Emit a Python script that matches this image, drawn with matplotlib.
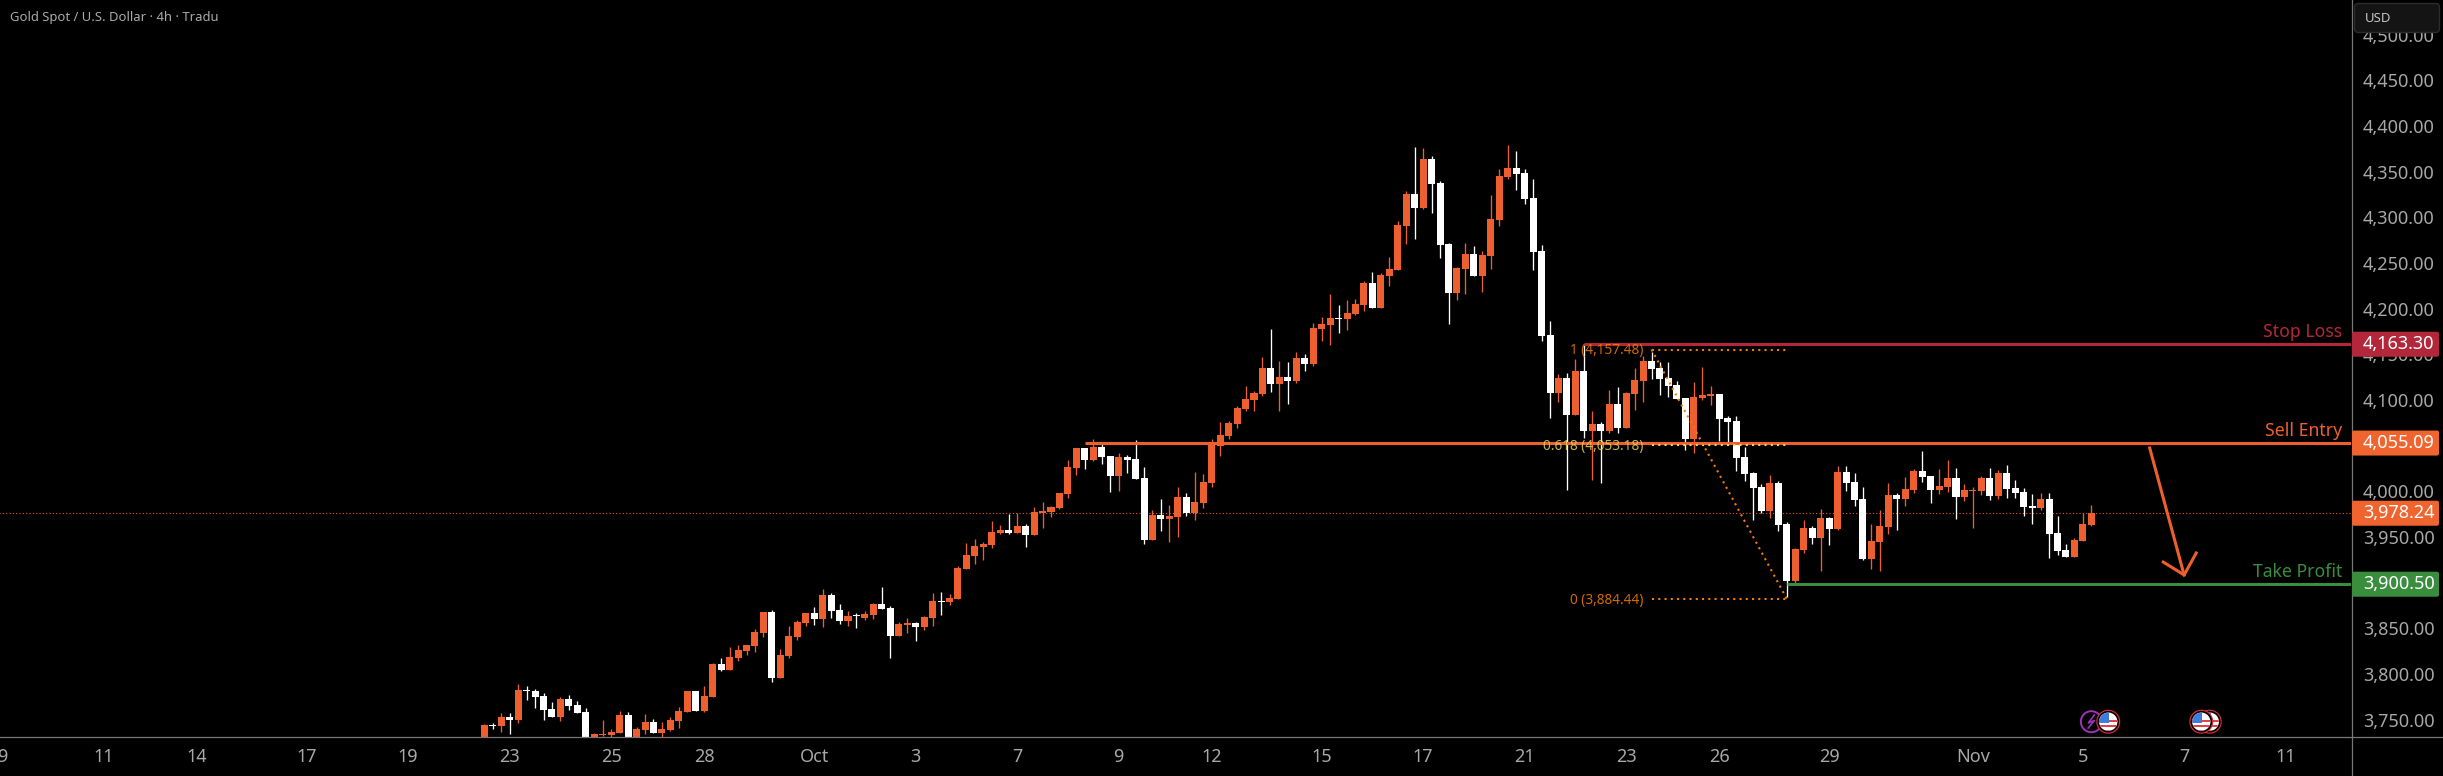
import matplotlib
matplotlib.use("Agg")
import matplotlib.pyplot as plt
import numpy as np
from matplotlib.patches import Circle, FancyBboxPatch, Rectangle
from matplotlib.transforms import blended_transform_factory

# 4h candles, oldest first
opens = [
    3725.0, 3746.1, 3745.3, 3755.2, 3751.9, 3784.8, 3783.7, 3778.2, 3764.0, 3755.2,
    3774.9, 3768.3, 3760.7, 3728.0, 3735.5, 3735.5, 3737.7, 3757.4, 3730.0, 3741.0,
    3749.7, 3737.7, 3741.0, 3750.8, 3760.7, 3783.7, 3761.8, 3777.1, 3813.2, 3806.7,
    3819.8, 3827.5, 3832.9, 3847.2, 3870.2, 3797.9, 3822.0, 3842.8, 3858.1, 3869.1,
    3862.5, 3888.8, 3872.4, 3860.3, 3866.9, 3863.6, 3866.9, 3878.9, 3874.5, 3843.9,
    3855.9, 3858.1, 3853.7, 3863.6, 3882.2, 3881.1, 3884.4, 3917.2, 3931.5, 3941.3,
    3943.5, 3956.7, 3960.0, 3956.7, 3964.3, 3954.5, 3978.6, 3979.7, 3984.0, 3999.4,
    4027.8, 4049.7, 4036.6, 4050.8, 4041.0, 4019.1, 4039.9, 4037.7, 4016.9, 3949.0,
    3976.4, 3972.0, 3974.2, 3996.1, 3978.6, 3989.5, 4011.4, 4051.9, 4062.9, 4076.0,
    4092.4, 4102.3, 4108.9, 4137.3, 4119.8, 4127.5, 4123.1, 4148.3, 4141.7, 4180.0,
    4184.4, 4192.1, 4191.0, 4196.5, 4206.3, 4230.4, 4203.0, 4238.1, 4244.6, 4292.8,
    4327.9, 4312.5, 4366.2, 4339.9, 4273.1, 4219.5, 4245.7, 4262.2, 4238.1, 4260.0,
    4299.4, 4346.5, 4356.3, 4350.9, 4323.5, 4265.4, 4173.5, 4110.0, 4126.4, 4085.9,
    4134.0, 4068.4, 4076.0, 4068.4, 4097.9, 4071.6, 4108.9, 4123.1, 4145.0, 4137.3,
    4126.4, 4118.7, 4104.5, 4059.6, 4104.4, 4106.6, 4108.8, 4082.5, 4079.3, 4039.8,
    4022.3, 4007.0, 3980.7, 4011.4, 3966.5, 3904.1, 3938.0, 3962.1, 3951.1, 3973.0,
    3961.0, 4023.4, 4012.5, 3993.8, 3928.1, 3946.8, 3963.2, 3998.2, 3993.8, 4003.7,
    4024.5, 4019.0, 4003.7, 4007.0, 4016.8, 3996.0, 4002.6, 4002.6, 4016.8, 3997.1,
    4022.3, 4005.9, 4001.5, 3986.2, 3984.0, 3993.8, 3956.6, 3938.0, 3930.3, 3947.8,
    3965.4,
]
highs = [
    3747.5, 3748.6, 3759.6, 3759.6, 3791.3, 3789.1, 3785.9, 3781.5, 3771.6, 3777.1,
    3779.3, 3772.7, 3765.0, 3737.7, 3751.9, 3742.0, 3761.8, 3760.7, 3744.2, 3758.5,
    3753.0, 3749.7, 3755.2, 3766.1, 3783.7, 3783.7, 3789.1, 3814.3, 3819.8, 3831.8,
    3834.0, 3834.0, 3851.5, 3870.2, 3872.4, 3829.6, 3854.8, 3861.4, 3869.1, 3875.6,
    3895.3, 3891.0, 3878.9, 3871.3, 3869.1, 3871.3, 3880.0, 3897.5, 3876.7, 3859.2,
    3863.6, 3859.2, 3865.8, 3891.0, 3892.1, 3889.9, 3920.5, 3945.7, 3950.1, 3946.8,
    3969.8, 3965.4, 3977.5, 3978.2, 3966.5, 3985.1, 3990.6, 3986.2, 4000.5, 4036.6,
    4049.7, 4049.7, 4059.6, 4054.1, 4041.0, 4044.3, 4042.1, 4058.5, 4028.9, 3981.9,
    3993.9, 3987.3, 4007.0, 4000.5, 4023.5, 4021.3, 4059.6, 4078.2, 4079.3, 4095.7,
    4117.6, 4112.2, 4149.4, 4180.0, 4145.0, 4143.9, 4154.9, 4152.7, 4186.6, 4193.2,
    4218.4, 4206.3, 4211.8, 4212.9, 4232.6, 4242.5, 4241.4, 4258.9, 4298.3, 4331.2,
    4379.3, 4378.2, 4369.5, 4342.1, 4274.2, 4247.9, 4274.2, 4270.9, 4265.4, 4326.8,
    4355.2, 4381.5, 4375.0, 4355.2, 4344.3, 4272.0, 4188.8, 4130.8, 4131.9, 4147.2,
    4162.5, 4090.2, 4078.2, 4113.2, 4116.5, 4111.1, 4137.3, 4150.5, 4154.9, 4143.9,
    4143.9, 4123.1, 4104.5, 4122.0, 4138.4, 4117.6, 4108.8, 4084.7, 4084.7, 4050.8,
    4023.4, 4010.3, 4020.1, 4013.6, 3968.7, 3940.2, 3970.9, 3964.3, 3982.9, 3974.1,
    4030.0, 4030.0, 4022.3, 4007.0, 3966.5, 3981.8, 4011.4, 4000.4, 4017.9, 4026.7,
    4046.4, 4019.0, 4026.7, 4036.6, 4027.8, 4010.3, 4007.0, 4019.0, 4027.8, 4025.6,
    4031.1, 4014.6, 4005.9, 3999.3, 4000.4, 4000.4, 3975.2, 3944.6, 3951.1, 3978.5,
    3987.3,
]
lows = [
    3722.0, 3742.0, 3738.8, 3736.6, 3748.6, 3773.8, 3765.0, 3751.9, 3755.2, 3750.8,
    3762.9, 3759.6, 3718.0, 3726.0, 3734.4, 3733.0, 3737.7, 3728.0, 3728.0, 3736.6,
    3737.7, 3733.0, 3739.9, 3743.1, 3760.7, 3761.8, 3760.7, 3777.1, 3805.6, 3806.7,
    3816.5, 3823.1, 3826.4, 3842.8, 3793.5, 3797.9, 3819.8, 3839.5, 3854.8, 3855.9,
    3853.7, 3863.6, 3857.0, 3854.8, 3852.6, 3861.4, 3862.5, 3873.4, 3819.8, 3843.9,
    3847.2, 3838.4, 3850.4, 3854.8, 3866.9, 3878.0, 3884.4, 3917.2, 3922.7, 3927.1,
    3940.2, 3955.6, 3955.6, 3956.7, 3941.3, 3954.5, 3962.1, 3974.2, 3982.9, 3995.0,
    4020.2, 4026.7, 4035.5, 4032.2, 4001.6, 4002.7, 4022.4, 4015.8, 3944.6, 3949.0,
    3958.9, 3946.8, 3952.3, 3975.3, 3970.9, 3984.0, 4007.0, 4041.0, 4059.6, 4071.6,
    4090.3, 4090.3, 4106.7, 4111.1, 4090.2, 4097.9, 4120.9, 4134.1, 4139.5, 4166.9,
    4162.5, 4175.7, 4179.0, 4195.4, 4199.8, 4203.0, 4203.0, 4227.1, 4244.6, 4273.1,
    4278.6, 4311.4, 4307.1, 4257.8, 4185.5, 4211.8, 4218.4, 4238.1, 4220.6, 4245.7,
    4292.8, 4344.3, 4332.2, 4316.9, 4244.6, 4166.9, 4082.6, 4100.1, 4003.8, 4085.9,
    4060.7, 4014.7, 4011.4, 4066.2, 4066.2, 4071.6, 4091.3, 4100.1, 4125.3, 4107.8,
    4105.6, 4103.4, 4047.6, 4044.3, 4102.3, 4096.8, 4057.4, 4053.0, 4024.5, 4013.6,
    3970.9, 3978.5, 3973.0, 3958.8, 3886.5, 3899.7, 3934.7, 3944.6, 3915.0, 3943.5,
    3959.9, 4002.6, 3986.2, 3927.0, 3917.2, 3915.0, 3955.5, 3959.9, 3986.2, 4000.4,
    4012.5, 3989.5, 3999.3, 4001.5, 3972.0, 3991.7, 3962.1, 3998.2, 3992.7, 3993.8,
    3995.0, 3995.0, 3975.2, 3966.5, 3981.8, 3929.2, 3932.5, 3930.3, 3930.3, 3947.8,
    3964.3,
]
closes = [
    3746.4, 3745.0, 3755.2, 3751.9, 3784.8, 3783.7, 3777.1, 3762.9, 3755.2, 3774.9,
    3767.2, 3759.6, 3722.0, 3736.6, 3736.6, 3738.8, 3757.4, 3732.0, 3742.0, 3749.7,
    3737.7, 3742.0, 3751.9, 3761.8, 3783.7, 3761.8, 3778.2, 3813.2, 3806.7, 3820.9,
    3828.5, 3834.0, 3848.3, 3870.2, 3797.9, 3823.1, 3843.9, 3859.2, 3869.1, 3862.5,
    3888.8, 3871.3, 3860.3, 3865.8, 3865.8, 3868.0, 3878.9, 3873.4, 3843.9, 3857.0,
    3858.1, 3853.7, 3864.7, 3882.2, 3881.1, 3885.5, 3918.3, 3932.6, 3942.4, 3944.6,
    3957.8, 3960.0, 3956.7, 3964.3, 3954.5, 3979.7, 3980.8, 3985.1, 4000.5, 4028.9,
    4049.7, 4036.6, 4050.8, 4039.9, 4019.1, 4039.9, 4036.6, 4015.8, 3949.0, 3976.4,
    3972.0, 3975.3, 3996.1, 3978.6, 3990.6, 4012.5, 4053.0, 4064.0, 4077.1, 4093.5,
    4103.4, 4110.0, 4137.3, 4119.8, 4127.5, 4123.1, 4148.3, 4141.7, 4181.1, 4185.5,
    4192.1, 4191.0, 4197.6, 4207.4, 4230.4, 4203.0, 4239.2, 4245.7, 4293.9, 4327.9,
    4312.5, 4366.2, 4338.8, 4272.0, 4219.5, 4246.8, 4262.2, 4238.1, 4261.1, 4300.5,
    4347.6, 4356.3, 4349.8, 4322.4, 4264.4, 4172.4, 4110.0, 4126.4, 4085.9, 4134.0,
    4068.4, 4076.0, 4068.4, 4097.9, 4071.6, 4110.0, 4124.2, 4145.0, 4136.2, 4125.3,
    4117.6, 4103.4, 4059.6, 4105.6, 4107.7, 4108.8, 4081.4, 4078.2, 4038.7, 4021.2,
    4005.9, 3980.7, 4011.4, 3965.4, 3904.1, 3939.1, 3962.1, 3951.1, 3973.0, 3961.0,
    4023.4, 4011.4, 3992.8, 3928.1, 3947.8, 3964.3, 3998.2, 3993.8, 4004.8, 4024.5,
    4017.9, 4003.7, 4008.1, 4016.8, 3996.0, 4003.7, 4003.7, 4016.8, 3997.1, 4022.3,
    4004.8, 4000.4, 3985.1, 3984.0, 3993.8, 3955.5, 3936.9, 3930.3, 3949.0, 3966.5,
    3978.24,
]

date_ticks = [-57, -45, -34, -21, -9, 3, 15, 26, 39, 51, 63, 75,
              86, 99, 111, 123, 135, 146, 159, 176, 189, 201, 213]
date_labels = ["9", "11", "14", "17", "19", "23", "25", "28", "Oct", "3", "7", "9",
               "12", "15", "17", "21", "23", "26", "29", "Nov", "5", "7", "11"]
price_ticks = [3750, 3800, 3850, 3900, 3950, 4000, 4050, 4100, 4150,
               4200, 4250, 4300, 4350, 4400, 4450, 4500]

stop_loss = 4163.30
sell_entry = 4055.09
take_profit = 3900.50
last_price = 3978.24
fib_levels = [1, 0.618, 0]
fib_prices = [4157.48, 4053.18, 3884.44]

W, H = 2443, 776
AXIS_X, AXIS_Y = 2351, 736.7
ORANGE = "#ee5f30"
RED = "#b2283a"
GREEN = "#388e3c"
TICK = "#a8a8a8"
plt.rcParams["font.family"] = ["Noto Sans", "DejaVu Sans"]

o, h, l, c = [np.array(a) for a in (opens, highs, lows, closes)]
x = np.arange(len(c))
up = c >= o

fig = plt.figure(figsize=(W / 100, H / 100), dpi=100, facecolor="black")
ax = fig.add_axes([0, 1 - AXIS_Y / H, AXIS_X / W, AXIS_Y / H], facecolor="black")
ax.set_xlim(-57.26, 220.7)
ax.set_ylim(3733.5, 4540.3)
ax.axis("off")

# pixel canvas for the chrome around the plot
px = fig.add_axes([0, 0, 1, 1], facecolor="none")
px.set_xlim(0, W)
px.set_ylim(H, 0)
px.axis("off")
price_y = blended_transform_factory(px.transData, ax.transData)
index_x = blended_transform_factory(ax.transData, px.transData)

colors = np.where(up, ORANGE, "white")
ax.vlines(x, l, h, colors=colors, lw=0.95, zorder=2)
ax.bar(x, np.maximum(np.abs(c - o), 1.0), bottom=np.minimum(o, c), width=0.83,
       color=colors, linewidth=0, zorder=3)

# levels
ax.plot([-58, 221], [last_price] * 2, color=ORANGE, lw=0.8, ls=(0, (1, 2)), zorder=1)
ax.plot([130, 221], [stop_loss] * 2, color=RED, lw=2.2, solid_capstyle="butt", zorder=4)
ax.plot([71, 221], [sell_entry] * 2, color=ORANGE, lw=2.2, solid_capstyle="butt", zorder=4)
ax.plot([154, 221], [take_profit] * 2, color=GREEN, lw=2.2, solid_capstyle="butt", zorder=4)

# fib retracement
fib_colors = ["#f57c00", "#e6d65a", "#f57c00"]
dots = (0, (1, 2))
for lev, p, col in zip(fib_levels, fib_prices, fib_colors):
    ax.plot([138, 154], [p, p], color=col, lw=1.5, ls=dots, zorder=5)
    ax.text(137, p - 1.5, f"{lev} ({p:,.2f})", color=col, alpha=0.85, fontsize=9.8,
            ha="right", va="center", zorder=6)
ax.plot([138, 154], [fib_prices[0], fib_prices[2]], color="#f57c00", lw=1.5, ls=dots, zorder=5)

# trade arrow
ax.plot([196.9, 200.97], [4049.7, 3910.6], color=ORANGE, lw=2.2, zorder=6)
ax.plot([198.5, 200.97, 202.4], [3924.8, 3910.6, 3934.7], color=ORANGE, lw=2.2, zorder=6)

for text, p, col in [("Stop Loss", stop_loss, RED), ("Sell Entry", sell_entry, ORANGE),
                     ("Take Profit", take_profit, GREEN)]:
    ax.annotate(text, (AXIS_X - 9, p), xycoords=price_y, xytext=(0, 2.5), textcoords="offset points",
                color=col, fontsize=12.7, ha="right", va="bottom", zorder=7)

# axis lines
px.plot([0, W], [AXIS_Y, AXIS_Y], color="#777777", lw=0.9)
px.plot([AXIS_X + 0.5, AXIS_X + 0.5], [0, H], color="#777777", lw=0.9)

# right price scale
for p in price_ticks:
    px.text(2363, p, f"{p:,.2f}", transform=price_y, color=TICK, fontsize=13, va="center", zorder=3)
for p, col in [(stop_loss, RED), (sell_entry, "#f0642f"), (last_price, "#f0642f"), (take_profit, GREEN)]:
    y = H - ax.transData.transform((0, p))[1]
    px.add_patch(FancyBboxPatch((AXIS_X + 1, y - 12.5), 87, 25, boxstyle="round,pad=0,rounding_size=2",
                                fc=col, ec="none", zorder=4))
    px.text(2363, y, f"{p:,.2f}", color="white", fontsize=13, va="center", zorder=5)

px.add_patch(FancyBboxPatch((2354.5, 3.5), 85, 29, boxstyle="round,pad=0,rounding_size=4",
                            fc="#141414", ec="#2c2c2c", lw=1, zorder=6))
px.text(2365, 18, "USD", color="#c4c4c4", fontsize=9.5, va="center", zorder=7)

# date scale
for i, lab in zip(date_ticks, date_labels):
    px.text(i, 757, lab, transform=index_x, color=TICK, fontsize=13, ha="center", va="center")

px.text(10, 18, "Gold Spot / U.S. Dollar · 4h · Tradu", color="#aaaaaa", fontsize=9.4, va="center")


def us_flag(cx, cy=721.7, r=10.5, z=8):
    px.add_patch(Circle((cx, cy), r + 1.5, fc="#d8303c", ec="none", zorder=z))
    px.add_patch(Circle((cx, cy), r - 0.5, fc="white", ec="black", lw=1.2, zorder=z))
    clip = Circle((cx, cy), r - 1.5, transform=px.transData)
    for k in range(3):
        s = px.add_patch(Rectangle((cx - r, cy - 2 + k * 5), 2 * r, 2.5, fc="#e0434b", ec="none", zorder=z))
        s.set_clip_path(clip)
    s = px.add_patch(Rectangle((cx - r, cy - r), r + 1, r + 1, fc="#3d7be0", ec="none", zorder=z))
    s.set_clip_path(clip)


# events under the last candles
event_x = [ax.transData.transform((i, 0))[0] for i in (190, 192, 203, 204)]
px.add_patch(Circle((event_x[0], 721.7), 10.5, fc="black", ec="#9c33b8", lw=1.4, zorder=7))
px.plot([event_x[0] + 3, event_x[0] - 3, event_x[0] + 3, event_x[0] - 3],
        [715, 723, 720.5, 728], color="#9c33b8", lw=1.2, zorder=7)
us_flag(event_x[1])
us_flag(event_x[3], z=7)
us_flag(event_x[2], z=8)

fig.savefig("out.png", dpi=100, facecolor="black")
